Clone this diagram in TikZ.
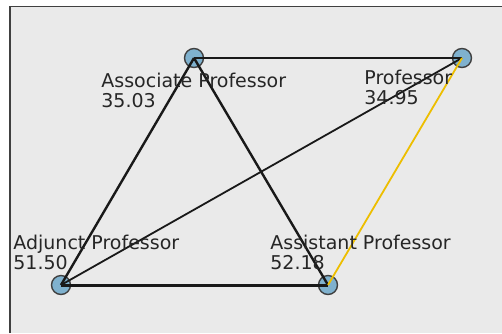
\documentclass[tikz,border=0pt]{standalone}
\usepackage{fontspec}
\setmainfont{DejaVu Sans}
\usepackage{tikz}

\definecolor{panelgray}{HTML}{EAEAEA}
\definecolor{dotblue}{HTML}{7FB1CE}
\definecolor{edgeyellow}{HTML}{EDBE00}
\tikzset{
  rank/.style={circle, draw=black!75, line width=0.7pt, fill=dotblue, minimum size=9.5pt, inner sep=0pt},
  lbl/.style={anchor=north west, inner sep=0pt, align=left, text=black!85, font=\fontsize{9.5}{9.6}\selectfont},
  link/.style={draw=black!90, line width=1.2pt},
  thin link/.style={draw=black!90, line width=0.9pt}
}

\begin{document}
\begin{tikzpicture}[x=0.5pt, y=-0.5pt]
				\useasboundingbox (0,0) rectangle (502,333);
				\fill[white] (0,0) rectangle (502,333);
				\fill[panelgray] (10,6.5) rectangle (502,333);
				\draw[black!75, line width=0.8pt] (10,333) -- (10,6.5) -- (502,6.5);
				\node[rank] (Asc) at (194,58) {};
				\node[rank] (Pro) at (462,58) {};
				\node[rank] (Adj) at (61,285) {};
				\node[rank] (Ast) at (328,285) {};
				\draw[link] (Asc.center) -- (Pro.center);
				\draw[link] (Asc.center) -- (Adj.center);
				\draw[link] (Asc.center) -- (Ast.center);
				\draw[link, line width=1.5pt] (Adj.center) -- (Ast.center);
				\draw[thin link] (Adj.center) -- (Pro.center);
				\draw[thin link, draw=edgeyellow] (Ast.center) -- (Pro.center);
				\node[lbl] (LAsc) at (101,73) {Associate Professor\\35.03};
				\node[lbl] (LPro) at (364,70) {Professor\\34.95};
				\node[lbl] (LAdj) at (13,235) {Adjunct Professor\\51.50};
				\node[lbl] (LAst) at (270,235) {Assistant Professor\\52.18};
			\end{tikzpicture}
\end{document}
